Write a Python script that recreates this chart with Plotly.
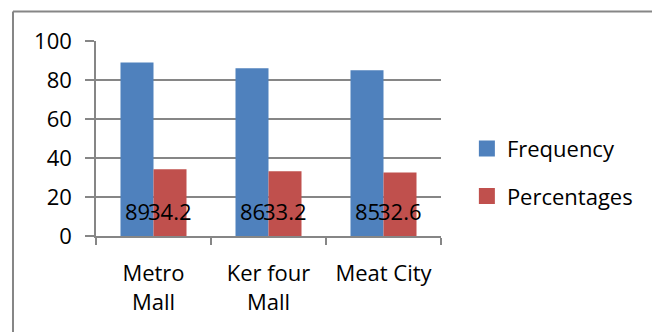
import plotly.graph_objects as go

categories = ["Metro<br>Mall", "Ker four<br>Mall", "Meat City"]
frequency = [89, 86, 85]
percentages = [34.2, 33.2, 32.6]
series_names = ["Frequency", "Percentages"]
colors = ["#4F81BD", "#C0504D"]
y_ticks = [0, 20, 40, 60, 80, 100]

FONT = "Open Sans"
FS = 22
GRID = "#868686"

fig = go.Figure()
for name, vals, col, grp in zip(series_names, [frequency, percentages], colors, ["a", "b"]):
    fig.add_trace(go.Bar(x=categories, y=vals, name=name, marker=dict(color=col, line=dict(width=0)),
                         legendgroup=grp, showlegend=False))
    # legend-only entry with a larger square swatch
    fig.add_trace(go.Scatter(x=[None], y=[None], mode="markers", name=name, legendgroup=grp,
                             marker=dict(symbol="square", size=16, color=col, line=dict(width=0))))

# data labels (inside base) from data
annotations = []
for vals, shift in zip([frequency, percentages], [-16.5, 16.5]):
    for c, v in zip(categories, vals):
        annotations.append(dict(x=c, y=0, xref="x", yref="y", text=f"{v:g}", showarrow=False,
                                xshift=shift, yshift=25, yanchor="middle",
                                font=dict(family=FONT, size=FS, color="#000000")))

# outer frame (only top and left visible in the crop)
shapes = [
    dict(type="line", xref="paper", yref="paper", x0=-0.2406, x1=1.7, y0=1.1513, y1=1.1513,
         line=dict(color=GRID, width=2)),
    dict(type="line", xref="paper", yref="paper", x0=-0.2406, x1=-0.2406, y0=1.1513, y1=-0.6,
         line=dict(color=GRID, width=2)),
]

fig.update_layout(
    width=652, height=332,
    margin=dict(l=96, r=211, t=41, b=96),
    paper_bgcolor="white", plot_bgcolor="white",
    barmode="group", bargap=0.426, bargroupgap=0,
    font=dict(family=FONT, size=FS, color="#000000"),
    showlegend=True,
    legend=dict(x=1.075, xanchor="left", y=0.325, yanchor="middle", traceorder="grouped",
                tracegroupgap=16, font=dict(family=FONT, size=FS), bgcolor="rgba(0,0,0,0)",
                itemwidth=30),
    annotations=annotations,
    shapes=shapes,
)
fig.update_xaxes(showline=True, linecolor=GRID, linewidth=1.5, ticks="outside", tickson="boundaries",
                 ticklen=7, tickcolor=GRID, tickwidth=1.5, showgrid=False, ticklabelstandoff=17)
fig.update_yaxes(range=[0, 100], tickvals=y_ticks, showline=True, linecolor=GRID, linewidth=1.5,
                 ticks="outside", ticklen=9, tickcolor=GRID, tickwidth=1.5, showgrid=True,
                 gridcolor=GRID, gridwidth=1.5, zeroline=False, ticklabelstandoff=9)

fig.write_html("out.html")
